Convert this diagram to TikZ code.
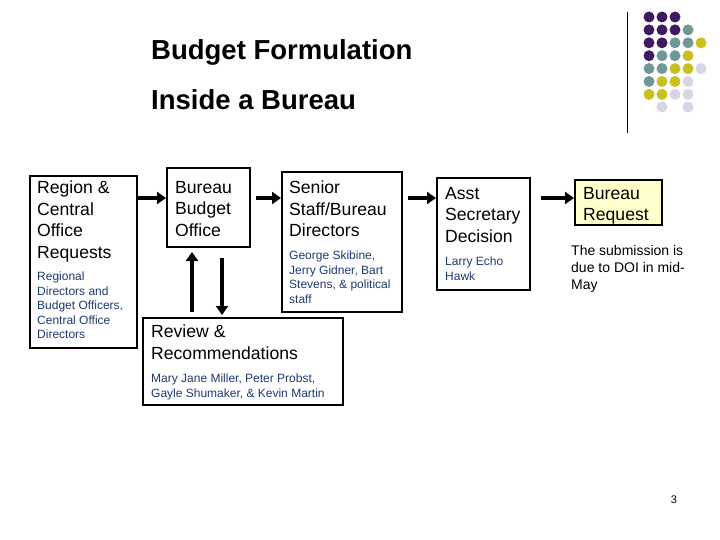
\documentclass[tikz,border=0pt]{standalone}
\usepackage{fontspec}
\setmainfont{Liberation Sans}
\usetikzlibrary{arrows.meta}
\definecolor{dp}{HTML}{3F1A60}
\definecolor{dt}{HTML}{6F9898}
\definecolor{dy}{HTML}{C8C020}
\definecolor{dl}{HTML}{D6D6E6}
\definecolor{sb}{HTML}{1F3A70}
\definecolor{ry}{HTML}{FFFFCC}
\tikzset{
 bx/.style={draw=black,line width=1.3pt},
 big/.style={anchor=north west,align=left,inner sep=0pt,font=\fontsize{17.6}{21.5}\selectfont},
 sm/.style={anchor=north west,align=left,inner sep=0pt,text=sb,font=\fontsize{12}{14.5}\selectfont},
 ttl/.style={anchor=base west,inner sep=0pt,font=\bfseries\fontsize{27.5}{30}\selectfont},
 arr/.style={line width=3.5pt,-{Triangle[length=9pt,width=12pt]}},
 dot/.style={circle,inner sep=0pt,minimum size=11pt}
}
\begin{document}
\begin{tikzpicture}[x=1pt,y=-1pt]
\useasboundingbox (0,0) rectangle (720,540);
\fill[white] (0,0) rectangle (720,540);
% title
\node[ttl] (t1) at (151,60) {Budget Formulation};
\node[ttl] (t2) at (151,110) {Inside a Bureau};
% decoration
\draw[line width=0.8pt] (627,12) -- (627,133);
\foreach \c [count=\i from 0] in {{dp,dp,dp},{dp,dp,dp,dt},{dp,dp,dt,dt,dy},{dp,dt,dt,dy},{dt,dt,dy,dy,dl},{dt,dy,dy,dl},{dy,dy,dl,dl}}{
  \foreach \k [count=\j from 0] in \c {\node[dot,fill=\k] at (649+13*\j,17+12.9*\i) {};}}
\node[dot,fill=dl] (d1) at (662,107) {};
\node[dot,fill=dl] (d2) at (688,107) {};
% boxes
\draw[bx] (30,176) rectangle (137,348);
\node[big] (r1) at (37,181) {Region \&\\Central\\Office\\Requests};
\node[sm] (r2) at (37,272) {Regional\\Directors and\\Budget Officers,\\Central Office\\Directors};
\draw[bx] (167,168) rectangle (250,247);
\node[big] (b1) at (175,181) {Bureau\\Budget\\Office};
\draw[bx] (282,172) rectangle (402,312);
\node[big] (s1) at (289,181) {Senior\\Staff/Bureau\\Directors};
\node[sm] (s2) at (289,251) {George Skibine,\\Jerry Gidner, Bart\\Stevens, \& political\\staff};
\draw[bx] (143,318) rectangle (343,405);
\node[big] (v1) at (151,325) {Review \&\\Recommendations};
\node[sm] (v2) at (151,374) {Mary Jane Miller, Peter Probst,\\Gayle Shumaker, \& Kevin Martin};
\draw[bx] (437,178) rectangle (530,290);
\node[big] (a1) at (445,187) {Asst\\Secretary\\Decision};
\node[sm] (a2) at (445,257) {Larry Echo\\Hawk};
\draw[bx,fill=ry] (575,180) rectangle (662,225);
\node[big] (q1) at (583,187) {Bureau\\Request};
\node[anchor=north west,align=left,inner sep=0pt,font=\fontsize{14}{17}\selectfont] (q2) at (571,245) {The submission is\\due to DOI in mid-\\May};
% arrows
\coordinate (p1) at (138,198); \coordinate (p2) at (166,198);
\coordinate (p3) at (256,198); \coordinate (p4) at (281,198);
\coordinate (p5) at (408,198); \coordinate (p6) at (436,198);
\coordinate (p7) at (541,198); \coordinate (p8) at (574,198);
\coordinate (u1) at (192,312); \coordinate (u2) at (192,252);
\coordinate (w1) at (222,258); \coordinate (w2) at (222,315);
\draw[arr] (p1) -- (p2);
\draw[arr] (p3) -- (p4);
\draw[arr] (p5) -- (p6);
\draw[arr] (p7) -- (p8);
\draw[arr] (u1) -- (u2);
\draw[arr] (w1) -- (w2);
\node[inner sep=0pt,font=\fontsize{11}{13}\selectfont] (pg) at (674,500) {3};
\end{tikzpicture}
\end{document}
